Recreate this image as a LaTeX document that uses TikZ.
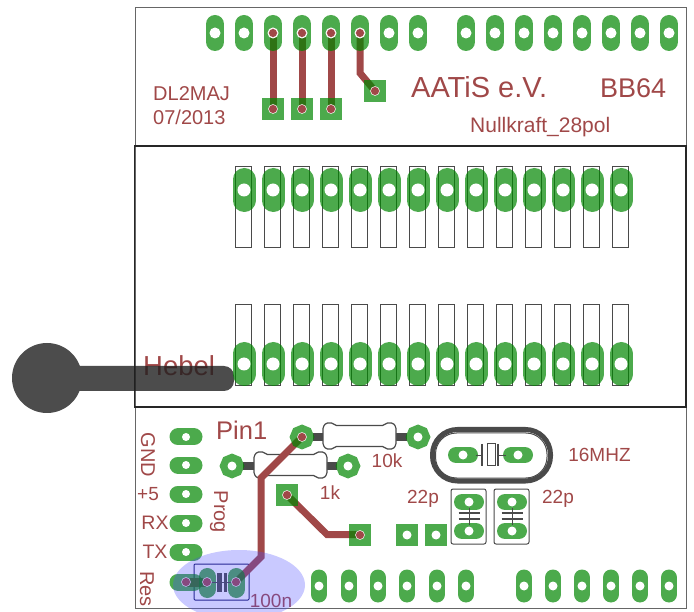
\documentclass[tikz,border=0pt]{standalone}
\usepackage{fontspec}
\setmainfont{Liberation Sans}
\usetikzlibrary{shapes.geometric}
\definecolor{cu}{RGB}{160,72,72}
\definecolor{padc}{RGB}{0,134,0}
\definecolor{gr}{RGB}{74,74,74}
\tikzset{
  lbl/.style={text=cu,inner sep=0pt,font=\fontsize{#1}{#1}\selectfont},
  trace/.style={draw=cu,line width=7pt,line join=miter},
  padv/.style={draw=padc,draw opacity=.7,line cap=round},
  sq/.style={fill=padc,fill opacity=.7,draw=none,minimum size=22pt,inner sep=0pt,shape=rectangle},
  octa/.style={regular polygon,regular polygon sides=8,shape border rotate=22.5,fill=padc,fill opacity=.7,minimum size=25pt,inner sep=0pt},
  hole/.style={fill=white,draw=none},
  dot/.style={fill=cu,draw=white,line width=.5pt},
  outl/.style={draw=gr,line width=1pt},
  resb/.style={draw=gr,fill=white,line width=1.2pt,rounded corners=1.5pt},
  lead/.style={draw=gr,line width=8pt},
  plate/.style={draw=gr,line width=2.5pt}
}
\newcommand{\vp}[4]{\draw[padv,line width=#3pt] (#1,#2-#4/2+#3/2) -- (#1,#2+#4/2-#3/2);}
\newcommand{\hp}[4]{\draw[padv,line width=#4pt] (#1-#3/2+#4/2,#2) -- (#1+#3/2-#4/2,#2);}
\newcommand{\ho}[3]{\fill[hole] (#1,#2) circle (#3pt);}
\newcommand{\resbody}[2]{\draw[resb,shift={(#1,#2)}] (0,4)--(3,0)--(10,0)--(12,2.5)--(61,2.5)--(63,0)--(70,0)--(73,4)--(73,22)--(70,26)--(63,26)--(61,23.5)--(12,23.5)--(10,26)--(3,26)--(0,22)--cycle;}
\begin{document}
\begin{tikzpicture}[x=1pt,y=-1pt]
\useasboundingbox (0,0) rectangle (694,612);
% board
\draw[draw=gray!80!black,line width=1pt] (135,8) rectangle (686,608);
\draw[draw=black!85,line width=1.2pt] (134.5,146) rectangle (686,407);
% socket slots
\foreach \x in {243,272,301,330,359,388,417,446,475,504,533,562,591,620}{
  \draw[outl,fill=white] (\x-8,167) rectangle (\x+8,248);
  \draw[outl,fill=white] (\x-8,305) rectangle (\x+8,386);
}
% labels
\node[lbl=20,anchor=west] (dl) at (153,94) {DL2MAJ};
\node[lbl=20,anchor=west] (dat) at (153,117) {07/2013};
\node[lbl=29,anchor=west] (aat) at (411,87) {AATiS e.V.};
\node[lbl=27,anchor=west] (bb) at (600,88) {BB64};
\node[lbl=21,anchor=west] (nk) at (470,127) {Nullkraft\_28pol};
\node[lbl=27.5,anchor=west] (heb) at (143,366) {Hebel};
\node[lbl=25.5,anchor=west] (pin) at (216,430) {Pin1};
\node[lbl=20,rotate=-90] (gnd) at (148,455) {GND};
\node[lbl=19] (p5) at (148,494) {+5};
\node[lbl=19.5] (rx) at (155,523) {RX};
\node[lbl=19.5] (tx) at (155,552) {TX};
\node[lbl=20,rotate=-90] (res) at (147,589) {Res};
\node[lbl=20,rotate=-90] (prog) at (219,512) {Prog};
\node[lbl=19] (tenk) at (387,461) {10k};
\node[lbl=19] (onek) at (330,493) {1k};
\node[lbl=19] (mhz) at (599.5,455) {16MHZ};
\node[lbl=19] (c1) at (423,499) {22p};
\node[lbl=19] (c2) at (558,499) {22p};
\node[lbl=19] (cn) at (271,601) {100n};
% lever
\begin{scope}[transparency group,opacity=.8]
  \fill[black!88] (47,378) circle (35pt);
  \fill[black!88,rounded corners=10pt] (60,366) rectangle (234,391);
\end{scope}
% resistors
\draw[lead] (313,437) -- (407,437);
\draw[lead] (243,466) -- (337,466);
\resbody{323}{423}
\resbody{254}{452}
% crystal
\draw[draw=gr,line width=5pt,rounded corners=25pt] (432.5,429.5) rectangle (550.5,481);
\draw[draw=gr,line width=1pt,rounded corners=21pt] (435.5,433) rectangle (547,478);
% capacitor outlines
\draw[outl,rounded corners=2pt] (451,489) rectangle (486,544);
\draw[outl,rounded corners=2pt] (494,489) rectangle (529,544);
\draw[draw=black!55!blue!70!gr,line width=1pt,rounded corners=1pt] (194,564) rectangle (249,600);
% traces
\draw[trace] (273,33) -- (273,109);
\draw[trace] (302,33) -- (302,109);
\draw[trace] (331,33) -- (331,109);
\draw[trace] (360,33) -- (360,73) -- (375,91);
\draw[trace] (302,437) -- (261,478) -- (261,557) -- (236,582);
\draw[trace] (287,495) -- (327,534.5) -- (360,534.5);
\draw[trace,line width=9pt] (186,582) -- (207,582);
% pads
\foreach \x in {215,244,273,302,331,360,389,418,466,495,524,553,582,611,640,669}{ \vp{\x}{33}{18}{36} }
\foreach \x in {244,273,302,331,360,389,418,447,476,505,534,563,592,621}{
  \vp{\x}{190}{23}{44}
  \vp{\x}{364}{23}{44}
}
\foreach \x in {319,349,378,407,437,466,524,553,582,611,640,669}{ \vp{\x}{586}{16}{33} }
\foreach \y in {437,465,494,523,552,582}{ \hp{186}{\y}{33}{17} }
\vp{207}{583}{17}{30}
\vp{236}{583}{17}{30}
\node[sq] (s1) at (273,109) {};
\node[sq] (s2) at (302,109) {};
\node[sq] (s3) at (331,109) {};
\node[sq] (s4) at (375,91) {};
\node[sq] (s5) at (287,495) {};
\node[sq] (s6) at (360,535) {};
\node[sq] (s7) at (407,535) {};
\node[sq] (s8) at (436,535) {};
\node[octa] (o1) at (302,437) {};
\node[octa] (o2) at (418,437) {};
\node[octa] (o3) at (232,466) {};
\node[octa] (o4) at (348,466) {};
\hp{463}{455}{30}{16}
\hp{518}{455}{30}{16}
\hp{469}{502}{30}{16}
\hp{469}{531}{30}{16}
\hp{512}{502}{30}{16}
\hp{512}{531}{30}{16}
% holes
\foreach \x in {215,244,273,302,331,360,389,418,466,495,524,553,582,611,640,669}{ \ho{\x}{33}{5.5} }
\foreach \x in {244,273,302,331,360,389,418,447,476,505,534,563,592,621}{ \ho{\x}{190}{6.5} \ho{\x}{364}{6.5} }
\foreach \x in {319,349,378,407,437,466,524,553,582,611,640,669}{ \ho{\x}{586}{4.5} }
\foreach \y in {437,465,494,523,552}{ \ho{186}{\y}{4} }
\foreach \x/\y in {407/535,436/535,418/437,232/466,348/466,463/455,518/455,469/502,469/531,512/502,512/531}{ \ho{\x}{\y}{4.5} }
% crystal symbol
\draw[draw=gr,line width=1pt] (476,455) -- (482,455) (498,455) -- (506,455);
\draw[draw=gr,line width=1.5pt] (482,444) -- (482,466) (498,444) -- (498,466);
\draw[outl,fill=white] (487,443.5) rectangle (495.5,465);
% capacitor symbols
\foreach \x in {469,512}{
  \draw[draw=gr,line width=1pt] (\x,508) -- (\x,525);
  \draw[plate] (\x-10.5,513) -- (\x+10.5,513);
  \draw[plate] (\x-10.5,519) -- (\x+10.5,519);
}
\draw[draw=gr,line width=1pt] (207,582) -- (236,582);
\fill[gr] (216.5,573) rectangle (221.5,592);
\fill[gr] (223.5,573) rectangle (227,592);
% trace ends
\foreach \x/\y in {273/33,302/33,331/33,360/33,273/109,302/109,331/109,375/91,302/437,287/495,360/535,186/582,207/582,236/582}{
  \fill[dot] (\x,\y) circle (4.5pt);
}
% highlight
\fill[blue!70!white,fill opacity=.3] (239,585) ellipse (66pt and 35pt);
\end{tikzpicture}
\end{document}
